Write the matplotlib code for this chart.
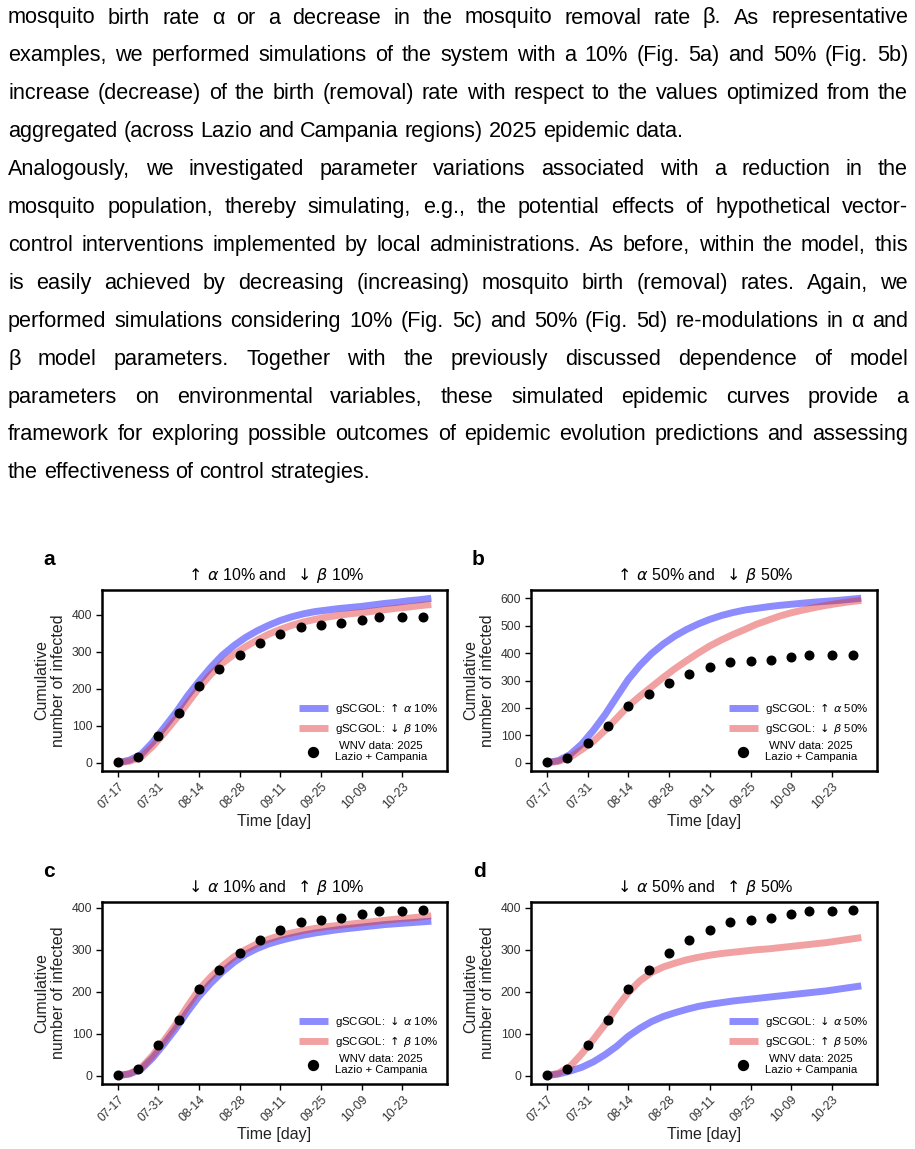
import numpy as np
import pandas as pd
import matplotlib
matplotlib.use('Agg')
import matplotlib.pyplot as plt

plt.rcParams['font.family'] = ['Liberation Sans', 'DejaVu Sans']
plt.rcParams['mathtext.fontset'] = 'dejavusans'

W, H = 915, 1149

# ---- body text (justified lines as in the page) ----
body_lines = [
    "mosquito birth rate α or a decrease in the mosquito removal rate β. As representative",
    "examples, we performed simulations of the system with a 10% (Fig. 5a) and 50% (Fig. 5b)",
    "increase (decrease) of the birth (removal) rate with respect to the values optimized from the",
    "aggregated (across Lazio and Campania regions) 2025 epidemic data.",
    "Analogously, we investigated parameter variations associated with a reduction in the",
    "mosquito population, thereby simulating, e.g., the potential effects of hypothetical vector-",
    "control interventions implemented by local administrations. As before, within the model, this",
    "is easily achieved by decreasing (increasing) mosquito birth (removal) rates. Again, we",
    "performed simulations considering 10% (Fig. 5c) and 50% (Fig. 5d) re-modulations in α and",
    "β model parameters. Together with the previously discussed dependence of model",
    "parameters on environmental variables, these simulated epidemic curves provide a",
    "framework for exploring possible outcomes of epidemic evolution predictions and assessing",
    "the effectiveness of control strategies.",
]
paragraph_ends = [3, 12]

# ---- observed data (WNV 2025, Lazio + Campania) ----
obs_days = [0, 7, 14, 21, 28, 35, 42, 49, 56, 63, 70, 77, 84, 90, 98, 105]
obs_cases = [1, 16, 73, 133, 207, 252, 292, 324, 348, 367, 372, 376, 385, 392, 393, 394]

# ---- simulated curves, sampled every 4 days ----
curve_days = np.arange(0, 109, 4)
a_blue = [0, 7, 22, 55, 95, 135, 180, 220, 257, 290, 316, 338, 356, 371, 384, 394,
          402, 408, 412, 416, 419, 422, 426, 430, 433, 437, 440, 444]
a_red = [0, 4, 15, 44, 80, 118, 160, 202, 238, 268, 292, 313, 331, 347, 360, 371,
         380, 387, 393, 398, 402, 405, 409, 413, 417, 420, 424, 427]
b_blue = [0, 8, 30, 68, 118, 175, 240, 304, 355, 398, 433, 462, 486, 506, 523, 537,
          548, 557, 563, 569, 574, 578, 582, 586, 589, 592, 596, 600]
b_red = [0, 5, 20, 48, 78, 118, 162, 207, 243, 277, 311, 343, 372, 400, 426, 448,
         468, 486, 505, 520, 535, 547, 557, 566, 574, 581, 587, 592]
c_blue = [0, 4, 15, 42, 76, 112, 152, 189, 220, 247, 270, 289, 303, 314, 322, 329,
          335, 340, 344, 348, 351, 354, 357, 360, 362, 364, 366, 368]
c_red = [0, 5, 18, 48, 84, 122, 165, 205, 235, 261, 283, 300, 314, 325, 334, 340,
         346, 351, 355, 358, 361, 364, 367, 370, 373, 375, 378, 381]
d_blue = [0, 4, 11, 20, 33, 50, 70, 94, 113, 129, 141, 150, 158, 165, 170, 174,
          178, 181, 184, 187, 190, 193, 196, 199, 202, 206, 210, 214]
d_red = [0, 6, 22, 52, 86, 122, 162, 198, 226, 246, 259, 268, 276, 282, 287, 291,
         294, 297, 300, 302, 305, 308, 311, 314, 317, 321, 325, 329]

tick_labels = ['07-17', '07-31', '08-14', '08-28', '09-11', '09-25', '10-09', '10-23']
tick_days = [0, 14, 28, 42, 56, 70, 84, 98]

start = pd.Timestamp('2025-07-17')


def to_dates(days):
    return start + pd.to_timedelta(np.asarray(days), unit='D')


fig = plt.figure(figsize=(W / 100, H / 100), dpi=100)
renderer = fig.canvas.get_renderer()

# justified paragraph
left_px, right_px = 8, 908
base0, step = 23.5, 37.9
fs_body = 15.6
probe1 = fig.text(0, 0, 'x x', fontsize=fs_body)
probe2 = fig.text(0, 0, 'xx', fontsize=fs_body)
space_w = (probe1.get_window_extent(renderer).width
           - probe2.get_window_extent(renderer).width)
probe1.remove()
probe2.remove()

for i, line in enumerate(body_lines):
    y = 1 - (base0 + i * step) / H
    words = line.split(' ')
    texts = [fig.text(0, y, w, fontsize=fs_body, va='baseline', color='black')
             for w in words]
    widths = [t.get_window_extent(renderer).width for t in texts]
    if i in paragraph_ends or len(words) == 1:
        gap = space_w
    else:
        gap = (right_px - left_px - sum(widths)) / (len(words) - 1)
    x = left_px
    for t, w in zip(texts, widths):
        t.set_x(x / W)
        x += w + gap


def rect(l, t, r, b):
    return [l / W, 1 - b / H, (r - l) / W, (b - t) / H]


UA, DA = '$\\uparrow\\,\\alpha$', '$\\downarrow\\,\\alpha$'
UB, DB = '$\\uparrow\\,\\beta$', '$\\downarrow\\,\\beta$'

panels = [
    ('a', rect(102, 590, 447, 771), f'{UA} 10% and  {DB} 10%',
     a_blue, a_red, f'gSCGOL: {UA} 10%', f'gSCGOL: {DB} 10%', (43, 565)),
    ('b', rect(531, 590, 877, 771), f'{UA} 50% and  {DB} 50%',
     b_blue, b_red, f'gSCGOL: {UA} 50%', f'gSCGOL: {DB} 50%', (472, 565)),
    ('c', rect(102, 902, 447, 1084), f'{DA} 10% and  {UB} 10%',
     c_blue, c_red, f'gSCGOL: {DA} 10%', f'gSCGOL: {UB} 10%', (43, 877)),
    ('d', rect(531, 902, 877, 1084), f'{DA} 50% and  {UB} 50%',
     d_blue, d_red, f'gSCGOL: {DA} 50%', f'gSCGOL: {UB} 50%', (473, 877)),
]

for letter, pos, title, blue, red, lab_b, lab_r, lpos in panels:
    ax = fig.add_axes(pos)
    ax.plot(to_dates(curve_days), blue, color='blue', alpha=0.45, lw=5,
            solid_capstyle='butt', label=lab_b)
    ax.plot(to_dates(curve_days), red, color='#e03030', alpha=0.45, lw=5,
            solid_capstyle='butt', label=lab_r)
    ax.plot(to_dates(obs_days), obs_cases, 'o', color='black', ms=6.2,
            label='WNV data: 2025\nLazio + Campania', zorder=3)

    ax.set_xticks(to_dates(tick_days))
    ax.set_xticklabels(tick_labels, rotation=45, ha='right', rotation_mode='anchor')
    ax.tick_params(axis='both', direction='out', length=4, width=1,
                   labelsize=8.8, labelcolor='#333333', pad=3)
    for sp in ax.spines.values():
        sp.set_linewidth(1.8)

    ax.set_title(title, fontsize=11.5, pad=7)
    ax.set_xlabel('Time [day]', fontsize=11.5, color='#222222', labelpad=2)
    ax.set_ylabel('Cumulative\nnumber of infected', fontsize=11.5,
                  color='#222222', labelpad=4)

    leg = ax.legend(loc='lower right', frameon=False, fontsize=8.2,
                    handlelength=2.6, handletextpad=0.6, labelspacing=0.45,
                    markerscale=1.15, borderaxespad=0.35)
    for t in leg.get_texts():
        t.set_multialignment('center')

    fig.text(lpos[0] / W, 1 - lpos[1] / H, letter, fontsize=15,
             fontweight='bold', va='baseline')

fig.savefig('out.png', dpi=100)
